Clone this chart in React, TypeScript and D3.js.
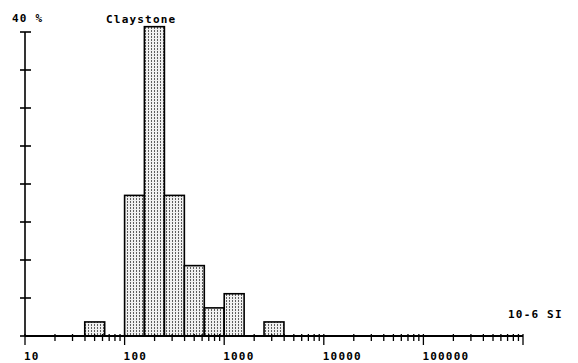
import React from "react";
import * as d3 from "d3";

// Magnetic susceptibility histogram (10-6 SI), log-spaced bins
const binStart = [39.8, 100, 158, 251, 398, 631, 1000, 2512];
const binEnd = [63.1, 158, 251, 398, 631, 1000, 1585, 3981];
const percent = [1.85, 18.5, 40.7, 18.5, 9.26, 3.7, 5.56, 1.85];
const xTickLabels = ["10", "100", "1000", "10000", "100000"];
const yTicks = [0, 5, 10, 15, 20, 25, 30, 35, 40];
const title = "Claystone";
const yUnit = "40 %";
const xUnit = "10-6 SI";

const W = 578;
const H = 363;
const font = "'DejaVu Sans Mono', monospace";

export default function App() {
  const x = d3.scaleLog().domain([10, 1e6]).range([25, 523]);
  const y = d3.scaleLinear().domain([0, 40]).range([336, 32]);
  const ticks = x.ticks();
  const isDecade = (v: number) => Math.abs(Math.log10(v) - Math.round(Math.log10(v))) < 1e-9;

  return (
    <svg
      width={W}
      height={H}
      style={{ position: "absolute", left: 0, top: 0, background: "#fff" }}
    >
      <defs>
        <pattern id="stipple" width={3} height={3} patternUnits="userSpaceOnUse">
          <rect width={3} height={3} fill="#f0f0f0" />
          <rect x={1} y={0} width={1} height={2} fill="#5e5e5e" />
        </pattern>
      </defs>

      {/* bars */}
      {percent.map((p, i) => (
        <rect
          key={i}
          x={x(binStart[i])}
          y={y(p)}
          width={x(binEnd[i]) - x(binStart[i])}
          height={y(0) - y(p)}
          fill="url(#stipple)"
          stroke="#000"
          strokeWidth={1.6}
        />
      ))}

      {/* y axis */}
      <line x1={x(10)} x2={x(10)} y1={y(40)} y2={y(0)} stroke="#000" strokeWidth={1.6} />
      {yTicks.map((t) => (
        <line
          key={t}
          x1={x(10) - 5}
          x2={x(10) + 6}
          y1={y(t)}
          y2={y(t)}
          stroke="#000"
          strokeWidth={1.6}
        />
      ))}

      {/* x axis */}
      <line x1={x(10)} x2={x(1e6)} y1={y(0)} y2={y(0)} stroke="#000" strokeWidth={2} />
      {ticks.map((t, i) => (
        <line
          key={i}
          x1={x(t)}
          x2={x(t)}
          y1={y(0) - 2}
          y2={y(0) + (isDecade(t) ? 9 : 5)}
          stroke="#000"
          strokeWidth={1.3}
        />
      ))}
      {xTickLabels.map((l) => (
        <text
          key={l}
          x={x(+l) - 1}
          y={359.5}
          fontFamily={font}
          fontWeight="bold"
          fontSize={11}
          letterSpacing={1.2}
        >
          {l}
        </text>
      ))}

      <text x={12} y={22} fontFamily={font} fontWeight="bold" fontSize={11} letterSpacing={1.2}>
        {yUnit}
      </text>
      <text x={106} y={23} fontFamily={font} fontWeight="bold" fontSize={11} letterSpacing={1.2}>
        {title}
      </text>
      <text x={508} y={318} fontFamily={font} fontWeight="bold" fontSize={11} letterSpacing={1.2}>
        {xUnit}
      </text>
    </svg>
  );
}
